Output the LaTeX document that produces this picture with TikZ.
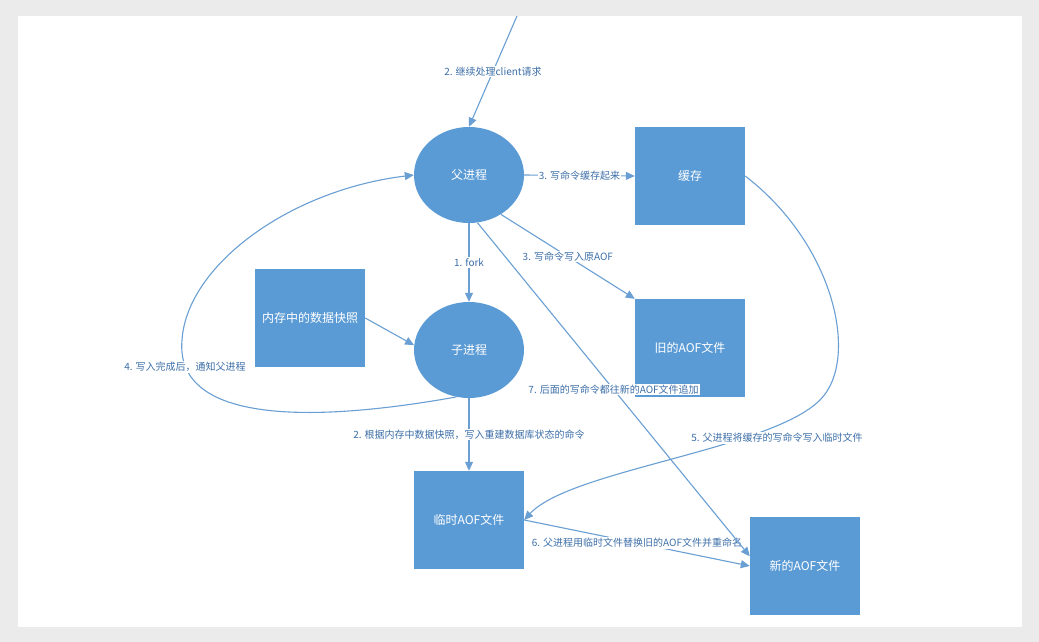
\documentclass[tikz,border=0pt]{standalone}
\usepackage{fontspec}
\setmainfont{Noto Sans CJK SC}
\usetikzlibrary{arrows.meta,shapes.geometric}
\definecolor{boxblue}{HTML}{5B9BD5}
\definecolor{lineblue}{HTML}{6A9FD3}
\definecolor{txtblue}{HTML}{3D6FA8}
\definecolor{bggray}{HTML}{EBEBEB}
\tikzset{
  proc/.style={ellipse,fill=boxblue,text=white,minimum width=110pt,minimum height=96pt,inner sep=0pt,font=\fontsize{12}{14}\selectfont},
  store/.style={rectangle,fill=boxblue,text=white,minimum width=110pt,minimum height=98pt,inner sep=0pt,font=\fontsize{12}{14}\selectfont},
  arr/.style={draw=lineblue,line width=1.1pt,-{Triangle[width=8pt,length=9pt]}},
  lbl/.style={fill=white,text=txtblue,inner sep=1pt,font=\fontsize{10}{12}\selectfont}
}
\begin{document}
\begin{tikzpicture}[x=1pt,y=-1pt]
\useasboundingbox (0,0) rectangle (1039,642);
\fill[bggray] (0,0) rectangle (1039,642);
\fill[white] (18,16) rectangle (1022,627);

\node[proc] (parent) at (469,175) {父进程};
\node[proc] (child) at (469,350) {子进程};
\node[store] (cache) at (690,176) {缓存};
\node[store] (old) at (690,348) {旧的AOF文件};
\node[store] (mem) at (310,318) {内存中的数据快照};
\node[store] (tmp) at (469,520) {临时AOF文件};
\node[store] (new) at (805,566) {新的AOF文件};
\coordinate (topin) at (517,16);

\draw[arr] (topin) -- node[lbl,pos=0.5] {2. 继续处理client请求} (parent.north);
\draw[arr] (parent.east) -- node[lbl] {3. 写命令缓存起来} (cache.west);
\draw[arr] (parent.-51) -- node[lbl] {3. 写命令写入原AOF} (old.north west);
\draw[arr] (parent.south) -- node[lbl] {1. fork} (child.north);
\draw[arr] (mem.east) -- (child.175);
\draw[arr] (child.south) -- node[lbl] {2. 根据内存中数据快照，写入重建数据库状态的命令} (tmp.north);
\draw[arr] (child.255) .. controls (300,425) and (175,420) .. (182,340)
  .. controls (187,265) and (290,190) .. (parent.west);
\node[lbl] (l4) at (185,367) {4. 写入完成后，通知父进程};
\draw[arr] (cache.east) .. controls (835,245) and (860,360) .. (820,400)
  .. controls (770,450) and (570,470) .. (tmp.east);
\node[lbl] (l5) at (777,438) {5. 父进程将缓存的写命令写入临时文件};
\draw[arr] (tmp.east) -- node[lbl] {6. 父进程用临时文件替换旧的AOF文件并重命名} (new.west);
\draw[arr] (parent.-80) -- node[lbl] {7. 后面的写命令都往新的AOF文件追加} (new.170);
\end{tikzpicture}
\end{document}
